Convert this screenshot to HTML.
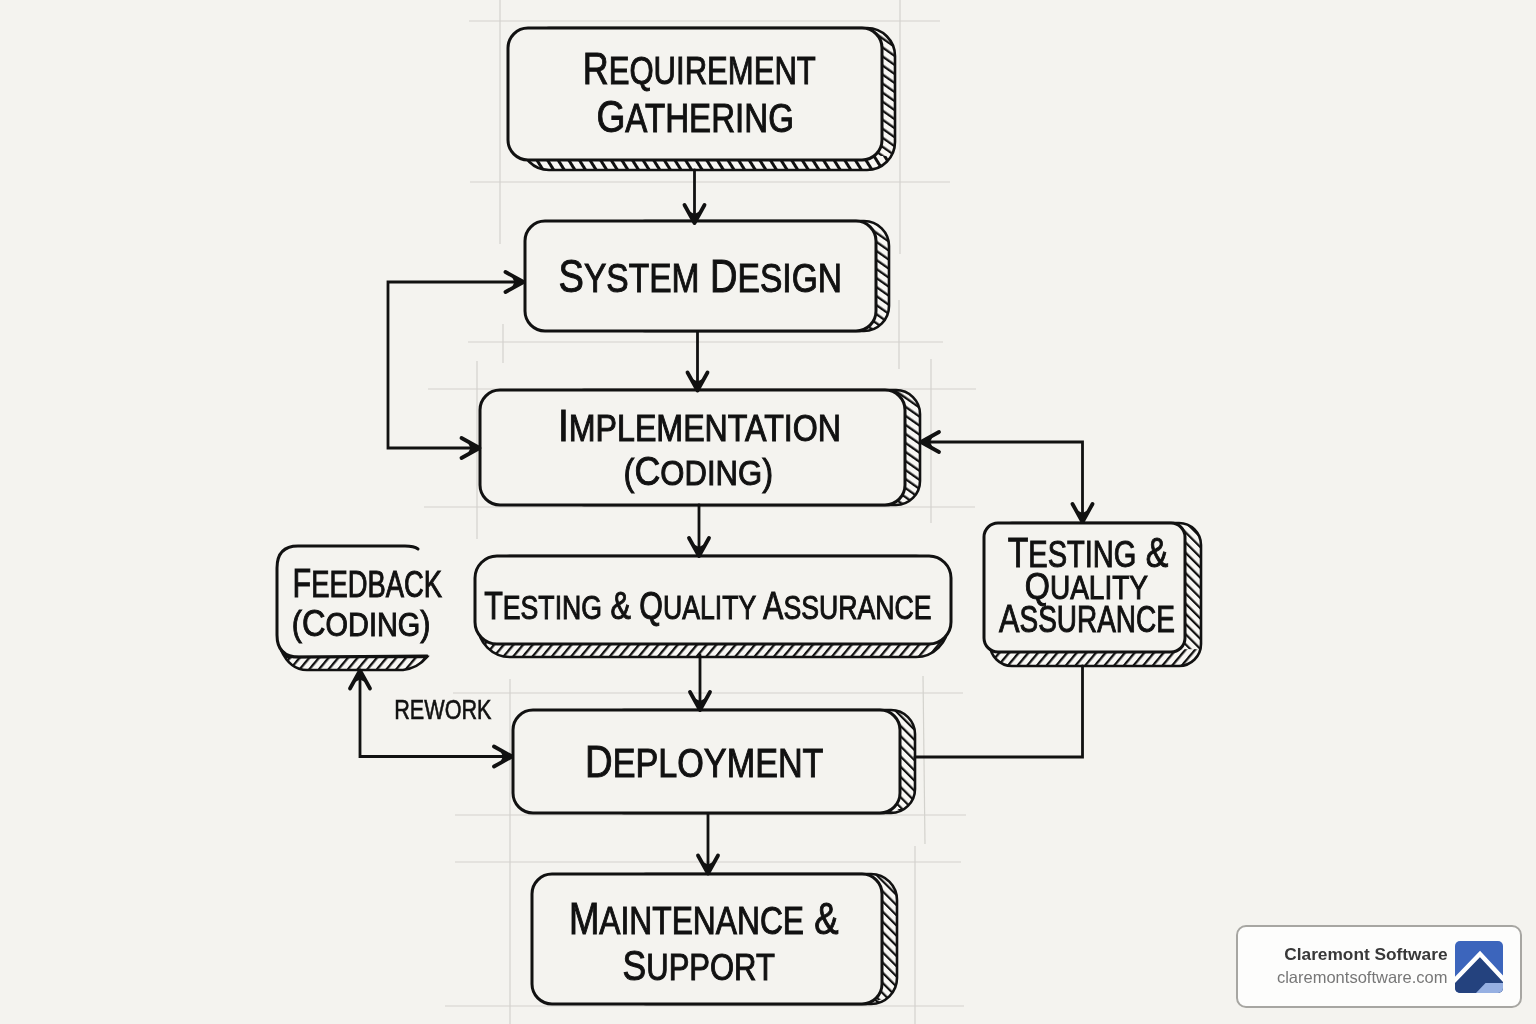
<!DOCTYPE html>
<html><head><meta charset="utf-8"><style>
html,body{margin:0;padding:0;background:#f4f3ef;}
body{width:1536px;height:1024px;overflow:hidden;position:relative;font-family:"Liberation Sans",sans-serif;}
svg{position:absolute;left:0;top:0;}
#main,.badge{will-change:transform;}
.badge{position:absolute;left:1236px;top:925px;width:286px;height:83px;box-sizing:border-box;border:2.5px solid #a7a6a2;border-radius:10px;background:#fdfdfc;}
.bt1{position:absolute;right:72.5px;top:16.5px;font-weight:bold;font-size:17.3px;color:#383838;white-space:nowrap;}
.bt2{position:absolute;right:72.5px;top:40.5px;font-size:16.5px;letter-spacing:0px;color:#777;white-space:nowrap;}
.logo{position:absolute;left:217px;top:14px;}
</style></head><body>
<svg id="main" width="1536" height="1024" viewBox="0 0 1536 1024">
<defs>
<pattern id="pB1" patternUnits="userSpaceOnUse" width="9" height="9" patternTransform="rotate(-32)">
<rect width="9" height="9" fill="#f8f7f4"/><rect width="3" height="9" fill="#111"/></pattern>
<pattern id="pR" patternUnits="userSpaceOnUse" width="7.4" height="7.4" patternTransform="rotate(-55)">
<rect width="7.4" height="7.4" fill="#f8f7f4"/><rect width="2.3" height="7.4" fill="#111"/></pattern>
<pattern id="pR2" patternUnits="userSpaceOnUse" width="7.2" height="7.2" patternTransform="rotate(-45)">
<rect width="7.2" height="7.2" fill="#f8f7f4"/><rect width="2.2" height="7.2" fill="#111"/></pattern>
<pattern id="pF" patternUnits="userSpaceOnUse" width="7.4" height="7.4" patternTransform="rotate(40)">
<rect width="7.4" height="7.4" fill="#f8f7f4"/><rect width="2.3" height="7.4" fill="#111"/></pattern>
</defs>
<rect width="1536" height="1024" fill="#f4f3ef"/>
<line x1="500" y1="0" x2="500" y2="244" stroke="#d3d2cd" stroke-width="1.2"/>
<line x1="503" y1="324" x2="503" y2="363" stroke="#d3d2cd" stroke-width="1.2"/>
<line x1="900" y1="0" x2="900" y2="254" stroke="#d3d2cd" stroke-width="1.2"/>
<line x1="899" y1="300" x2="899" y2="369" stroke="#d3d2cd" stroke-width="1.2"/>
<line x1="469" y1="21" x2="940" y2="21" stroke="#d3d2cd" stroke-width="1.2"/>
<line x1="470" y1="182" x2="950" y2="182" stroke="#d3d2cd" stroke-width="1.2"/>
<line x1="468" y1="342" x2="943" y2="342" stroke="#d3d2cd" stroke-width="1.2"/>
<line x1="477" y1="361" x2="477" y2="539" stroke="#d3d2cd" stroke-width="1.2"/>
<line x1="931" y1="359" x2="931" y2="523" stroke="#d3d2cd" stroke-width="1.2"/>
<line x1="428" y1="389" x2="976" y2="389" stroke="#d3d2cd" stroke-width="1.2"/>
<line x1="424" y1="507" x2="975" y2="507" stroke="#d3d2cd" stroke-width="1.2"/>
<line x1="510" y1="679" x2="510" y2="1024" stroke="#d3d2cd" stroke-width="1.2"/>
<line x1="923" y1="676" x2="925" y2="844" stroke="#d3d2cd" stroke-width="1.2"/>
<line x1="453" y1="693" x2="963" y2="693" stroke="#d3d2cd" stroke-width="1.2"/>
<line x1="455" y1="815" x2="966" y2="815" stroke="#d3d2cd" stroke-width="1.2"/>
<line x1="915" y1="846" x2="915" y2="1024" stroke="#d3d2cd" stroke-width="1.2"/>
<line x1="455" y1="862" x2="961" y2="862" stroke="#d3d2cd" stroke-width="1.2"/>
<line x1="445" y1="1006" x2="964" y2="1006" stroke="#d3d2cd" stroke-width="1.2"/>
<clipPath id="sc0"><path d="M549,28 L867,28 C882.4,28 895,40.599999999999994 895,56 L895,142 C895,157.4 882.4,170 867,170 L549,170 C533.6,170 521,157.4 521,142 L521,56 C521,40.599999999999994 533.6,28 549,28 Z"/></clipPath>
<path d="M549,28 L867,28 C882.4,28 895,40.599999999999994 895,56 L895,142 C895,157.4 882.4,170 867,170 L549,170 C533.6,170 521,157.4 521,142 L521,56 C521,40.599999999999994 533.6,28 549,28 Z" fill="url(#pB1)"/>
<rect x="862" y="28" width="36" height="128.0" fill="url(#pR)" clip-path="url(#sc0)"/>
<path d="M549,28 L867,28 C882.4,28 895,40.599999999999994 895,56 L895,142 C895,157.4 882.4,170 867,170 L549,170 C533.6,170 521,157.4 521,142 L521,56 C521,40.599999999999994 533.6,28 549,28 Z" fill="none" stroke="#111" stroke-width="2.6"/>
<path d="M528,28 L862,28 C873.0,28 882,37.0 882,48 L882,140 C882,151.0 873.0,160 862,160 L528,160 C517.0,160 508,151.0 508,140 L508,48 C508,37.0 517.0,28 528,28 Z" fill="#f4f3ef" stroke="#111" stroke-width="3"/>
<clipPath id="sc1"><path d="M645,221 L864,221 C877.75,221 889,232.25 889,246 L889,306 C889,319.75 877.75,331 864,331 L645,331 C631.25,331 620,319.75 620,306 L620,246 C620,232.25 631.25,221 645,221 Z"/></clipPath>
<path d="M645,221 L864,221 C877.75,221 889,232.25 889,246 L889,306 C889,319.75 877.75,331 864,331 L645,331 C631.25,331 620,319.75 620,306 L620,246 C620,232.25 631.25,221 645,221 Z" fill="url(#pR)"/>
<path d="M645,221 L864,221 C877.75,221 889,232.25 889,246 L889,306 C889,319.75 877.75,331 864,331 L645,331 C631.25,331 620,319.75 620,306 L620,246 C620,232.25 631.25,221 645,221 Z" fill="none" stroke="#111" stroke-width="2.6"/>
<path d="M545,221 L856,221 C867.0,221 876,230.0 876,241 L876,311 C876,322.0 867.0,331 856,331 L545,331 C534.0,331 525,322.0 525,311 L525,241 C525,230.0 534.0,221 545,221 Z" fill="#f4f3ef" stroke="#111" stroke-width="3"/>
<clipPath id="sc2"><path d="M584,390 L896,390 C909.2,390 920,400.8 920,414 L920,481 C920,494.2 909.2,505 896,505 L584,505 C570.8,505 560,494.2 560,481 L560,414 C560,400.8 570.8,390 584,390 Z"/></clipPath>
<path d="M584,390 L896,390 C909.2,390 920,400.8 920,414 L920,481 C920,494.2 909.2,505 896,505 L584,505 C570.8,505 560,494.2 560,481 L560,414 C560,400.8 570.8,390 584,390 Z" fill="url(#pR)"/>
<path d="M584,390 L896,390 C909.2,390 920,400.8 920,414 L920,481 C920,494.2 909.2,505 896,505 L584,505 C570.8,505 560,494.2 560,481 L560,414 C560,400.8 570.8,390 584,390 Z" fill="none" stroke="#111" stroke-width="2.6"/>
<path d="M500,390 L885,390 C896.0,390 905,399.0 905,410 L905,485 C905,496.0 896.0,505 885,505 L500,505 C489.0,505 480,496.0 480,485 L480,410 C480,399.0 489.0,390 500,390 Z" fill="#f4f3ef" stroke="#111" stroke-width="3"/>
<clipPath id="sc3"><path d="M510,556 L916,556 C933.6,556 948,570.4 948,588 L948,625 C948,642.6 933.6,657 916,657 L510,657 C492.4,657 478,642.6 478,625 L478,588 C478,570.4 492.4,556 510,556 Z"/></clipPath>
<path d="M510,556 L916,556 C933.6,556 948,570.4 948,588 L948,625 C948,642.6 933.6,657 916,657 L510,657 C492.4,657 478,642.6 478,625 L478,588 C478,570.4 492.4,556 510,556 Z" fill="url(#pF)"/>
<path d="M510,556 L916,556 C933.6,556 948,570.4 948,588 L948,625 C948,642.6 933.6,657 916,657 L510,657 C492.4,657 478,642.6 478,625 L478,588 C478,570.4 492.4,556 510,556 Z" fill="none" stroke="#111" stroke-width="2.6"/>
<path d="M497,556 L929,556 C941.1,556 951,565.9 951,578 L951,622 C951,634.1 941.1,644 929,644 L497,644 C484.9,644 475,634.1 475,622 L475,578 C475,565.9 484.9,556 497,556 Z" fill="#f4f3ef" stroke="#111" stroke-width="3"/>
<clipPath id="sc4"><path d="M624,710 L891,710 C904.2,710 915,720.8 915,734 L915,789 C915,802.2 904.2,813 891,813 L624,813 C610.8,813 600,802.2 600,789 L600,734 C600,720.8 610.8,710 624,710 Z"/></clipPath>
<path d="M624,710 L891,710 C904.2,710 915,720.8 915,734 L915,789 C915,802.2 904.2,813 891,813 L624,813 C610.8,813 600,802.2 600,789 L600,734 C600,720.8 610.8,710 624,710 Z" fill="url(#pR)"/>
<rect x="880" y="710" width="38" height="99.0" fill="url(#pR2)" clip-path="url(#sc4)"/>
<path d="M624,710 L891,710 C904.2,710 915,720.8 915,734 L915,789 C915,802.2 904.2,813 891,813 L624,813 C610.8,813 600,802.2 600,789 L600,734 C600,720.8 610.8,710 624,710 Z" fill="none" stroke="#111" stroke-width="2.6"/>
<path d="M533,710 L880,710 C891.0,710 900,719.0 900,730 L900,793 C900,804.0 891.0,813 880,813 L533,813 C522.0,813 513,804.0 513,793 L513,730 C513,719.0 522.0,710 533,710 Z" fill="#f4f3ef" stroke="#111" stroke-width="3"/>
<clipPath id="sc5"><path d="M646,874 L871,874 C885.3,874 897,885.7 897,900 L897,978 C897,992.3 885.3,1004 871,1004 L646,1004 C631.7,1004 620,992.3 620,978 L620,900 C620,885.7 631.7,874 646,874 Z"/></clipPath>
<path d="M646,874 L871,874 C885.3,874 897,885.7 897,900 L897,978 C897,992.3 885.3,1004 871,1004 L646,1004 C631.7,1004 620,992.3 620,978 L620,900 C620,885.7 631.7,874 646,874 Z" fill="url(#pR)"/>
<rect x="862" y="874" width="38" height="126.0" fill="url(#pR2)" clip-path="url(#sc5)"/>
<path d="M646,874 L871,874 C885.3,874 897,885.7 897,900 L897,978 C897,992.3 885.3,1004 871,1004 L646,1004 C631.7,1004 620,992.3 620,978 L620,900 C620,885.7 631.7,874 646,874 Z" fill="none" stroke="#111" stroke-width="2.6"/>
<path d="M552,874 L862,874 C873.0,874 882,883.0 882,894 L882,984 C882,995.0 873.0,1004 862,1004 L552,1004 C541.0,1004 532,995.0 532,984 L532,894 C532,883.0 541.0,874 552,874 Z" fill="#f4f3ef" stroke="#111" stroke-width="3"/>
<clipPath id="sc6"><path d="M1012,523 L1179,523 C1191.1,523 1201,532.9 1201,545 L1201,644 C1201,656.1 1191.1,666 1179,666 L1012,666 C999.9,666 990,656.1 990,644 L990,545 C990,532.9 999.9,523 1012,523 Z"/></clipPath>
<path d="M1012,523 L1179,523 C1191.1,523 1201,532.9 1201,545 L1201,644 C1201,656.1 1191.1,666 1179,666 L1012,666 C999.9,666 990,656.1 990,644 L990,545 C990,532.9 999.9,523 1012,523 Z" fill="url(#pF)"/>
<rect x="1171" y="523" width="33" height="126.2" fill="url(#pR2)" clip-path="url(#sc6)"/>
<path d="M1012,523 L1179,523 C1191.1,523 1201,532.9 1201,545 L1201,644 C1201,656.1 1191.1,666 1179,666 L1012,666 C999.9,666 990,656.1 990,644 L990,545 C990,532.9 999.9,523 1012,523 Z" fill="none" stroke="#111" stroke-width="2.6"/>
<path d="M998,523 L1171,523 C1178.7,523 1185,529.3 1185,537 L1185,638 C1185,645.7 1178.7,652 1171,652 L998,652 C990.3,652 984,645.7 984,638 L984,537 C984,529.3 990.3,523 998,523 Z" fill="#f4f3ef" stroke="#111" stroke-width="3"/>
<path d="M281,650 Q290,670 307,670 L403,670 Q418,668 427,657 L288,657 Z" fill="url(#pF)" stroke="#111" stroke-width="2.6"/>
<path d="M418,549 Q414,546 405,546 L298,546 Q277,546 277,568 L277,635 Q277,657 299,657 L427,656" fill="none" stroke="#111" stroke-width="3" stroke-linecap="round"/>
<path d="M694.5,170 L694.5,223" fill="none" stroke="#111" stroke-width="2.8" stroke-linejoin="miter" stroke-linecap="round"/>
<path d="M694.5,223 L687.6,210.5 L694.5,214.0 L701.4,210.5 Z" fill="#111"/>
<path d="M684.5,205.0 L694.5,223 L704.5,205.0" fill="none" stroke="#111" stroke-width="3.8" stroke-linejoin="round" stroke-linecap="round"/>
<path d="M697.5,332 L697.5,390.5" fill="none" stroke="#111" stroke-width="2.8" stroke-linejoin="miter" stroke-linecap="round"/>
<path d="M697.5,390.5 L690.6,378.0 L697.5,381.5 L704.4,378.0 Z" fill="#111"/>
<path d="M687.5,372.5 L697.5,390.5 L707.5,372.5" fill="none" stroke="#111" stroke-width="3.8" stroke-linejoin="round" stroke-linecap="round"/>
<path d="M699,505 L699,556" fill="none" stroke="#111" stroke-width="2.8" stroke-linejoin="miter" stroke-linecap="round"/>
<path d="M699,556 L692.1,543.5 L699.0,547.0 L705.9,543.5 Z" fill="#111"/>
<path d="M689.0,538.0 L699,556 L709.0,538.0" fill="none" stroke="#111" stroke-width="3.8" stroke-linejoin="round" stroke-linecap="round"/>
<path d="M700,655 L700,710" fill="none" stroke="#111" stroke-width="2.8" stroke-linejoin="miter" stroke-linecap="round"/>
<path d="M700,710 L693.1,697.5 L700.0,701.0 L706.9,697.5 Z" fill="#111"/>
<path d="M690.0,692.0 L700,710 L710.0,692.0" fill="none" stroke="#111" stroke-width="3.8" stroke-linejoin="round" stroke-linecap="round"/>
<path d="M708,814 L708,873.5" fill="none" stroke="#111" stroke-width="2.8" stroke-linejoin="miter" stroke-linecap="round"/>
<path d="M708,873.5 L701.1,861.0 L708.0,864.5 L714.9,861.0 Z" fill="#111"/>
<path d="M698.0,855.5 L708,873.5 L718.0,855.5" fill="none" stroke="#111" stroke-width="3.8" stroke-linejoin="round" stroke-linecap="round"/>
<path d="M523.5,282 L388,282 L388,448 L479.5,448" fill="none" stroke="#111" stroke-width="2.8" stroke-linejoin="miter" stroke-linecap="round"/>
<path d="M523.5,282 L511.0,288.9 L514.5,282.0 L511.0,275.1 Z" fill="#111"/>
<path d="M505.5,292.0 L523.5,282 L505.5,272.0" fill="none" stroke="#111" stroke-width="3.8" stroke-linejoin="round" stroke-linecap="round"/>
<path d="M479.5,448 L467.0,454.9 L470.5,448.0 L467.0,441.1 Z" fill="#111"/>
<path d="M461.5,458.0 L479.5,448 L461.5,438.0" fill="none" stroke="#111" stroke-width="3.8" stroke-linejoin="round" stroke-linecap="round"/>
<path d="M360,670.5 L360,756.5 L512,756.5" fill="none" stroke="#111" stroke-width="2.8" stroke-linejoin="miter" stroke-linecap="round"/>
<path d="M360,670.5 L366.9,683.0 L360.0,679.5 L353.1,683.0 Z" fill="#111"/>
<path d="M370.0,688.5 L360,670.5 L350.0,688.5" fill="none" stroke="#111" stroke-width="3.8" stroke-linejoin="round" stroke-linecap="round"/>
<path d="M512,756.5 L499.5,763.4 L503.0,756.5 L499.5,749.6 Z" fill="#111"/>
<path d="M494.0,766.5 L512,756.5 L494.0,746.5" fill="none" stroke="#111" stroke-width="3.8" stroke-linejoin="round" stroke-linecap="round"/>
<path d="M921,442 L1082.5,442 L1082.5,522" fill="none" stroke="#111" stroke-width="2.8" stroke-linejoin="miter" stroke-linecap="round"/>
<path d="M921,442 L933.5,435.1 L930.0,442.0 L933.5,448.9 Z" fill="#111"/>
<path d="M939.0,432.0 L921,442 L939.0,452.0" fill="none" stroke="#111" stroke-width="3.8" stroke-linejoin="round" stroke-linecap="round"/>
<path d="M1082.5,522 L1075.6,509.5 L1082.5,513.0 L1089.4,509.5 Z" fill="#111"/>
<path d="M1072.5,504.0 L1082.5,522 L1092.5,504.0" fill="none" stroke="#111" stroke-width="3.8" stroke-linejoin="round" stroke-linecap="round"/>
<path d="M1082.5,666 L1082.5,757 L915,757" fill="none" stroke="#111" stroke-width="2.8" stroke-linejoin="miter" stroke-linecap="round"/>
<text x="582.80" y="84.00" textLength="233.00" lengthAdjust="spacingAndGlyphs" font-family="Liberation Sans" fill="#111" stroke="#111" stroke-width="1.0" xml:space="preserve"><tspan font-size="45">R</tspan><tspan font-size="39">EQUIREMENT</tspan></text>
<text x="596.40" y="132.00" textLength="197.50" lengthAdjust="spacingAndGlyphs" font-family="Liberation Sans" fill="#111" stroke="#111" stroke-width="1.0" xml:space="preserve"><tspan font-size="45">G</tspan><tspan font-size="40">ATHERING</tspan></text>
<text x="558.60" y="292.00" textLength="283.40" lengthAdjust="spacingAndGlyphs" font-family="Liberation Sans" fill="#111" stroke="#111" stroke-width="1.0" xml:space="preserve"><tspan font-size="46.5">S</tspan><tspan font-size="41">YSTEM</tspan><tspan font-size="46.5"> D</tspan><tspan font-size="41">ESIGN</tspan></text>
<text x="557.90" y="441.40" textLength="283.10" lengthAdjust="spacingAndGlyphs" font-family="Liberation Sans" fill="#111" stroke="#111" stroke-width="1.0" xml:space="preserve"><tspan font-size="43.8">I</tspan><tspan font-size="36">MPLEMENTATION</tspan></text>
<text x="623.60" y="485.00" textLength="149.50" lengthAdjust="spacingAndGlyphs" font-family="Liberation Sans" fill="#111" stroke="#111" stroke-width="1.0" xml:space="preserve"><tspan font-size="37.5">(</tspan><tspan font-size="41">C</tspan><tspan font-size="35.6">ODING</tspan><tspan font-size="37.5">)</tspan></text>
<text x="484.20" y="619.00" textLength="447.30" lengthAdjust="spacingAndGlyphs" font-family="Liberation Sans" fill="#111" stroke="#111" stroke-width="1.0" xml:space="preserve"><tspan font-size="38.3">T</tspan><tspan font-size="33.5">ESTING</tspan><tspan font-size="38.3"> &amp; Q</tspan><tspan font-size="33.5">UALITY</tspan><tspan font-size="38.3"> A</tspan><tspan font-size="33.5">SSURANCE</tspan></text>
<text x="585.10" y="777.30" textLength="238.40" lengthAdjust="spacingAndGlyphs" font-family="Liberation Sans" fill="#111" stroke="#111" stroke-width="1.0" xml:space="preserve"><tspan font-size="44.5">D</tspan><tspan font-size="39.8">EPLOYMENT</tspan></text>
<text x="568.90" y="934.30" textLength="269.60" lengthAdjust="spacingAndGlyphs" font-family="Liberation Sans" fill="#111" stroke="#111" stroke-width="1.0" xml:space="preserve"><tspan font-size="44.2">M</tspan><tspan font-size="38.5">AINTENANCE</tspan><tspan font-size="44.2"> &amp;</tspan></text>
<text x="622.60" y="979.60" textLength="152.30" lengthAdjust="spacingAndGlyphs" font-family="Liberation Sans" fill="#111" stroke="#111" stroke-width="1.0" xml:space="preserve"><tspan font-size="42.5">S</tspan><tspan font-size="37.2">UPPORT</tspan></text>
<text x="292.60" y="597.20" textLength="149.40" lengthAdjust="spacingAndGlyphs" font-family="Liberation Sans" fill="#111" stroke="#111" stroke-width="1.0" xml:space="preserve"><tspan font-size="41.3">F</tspan><tspan font-size="37">EEDBACK</tspan></text>
<text x="291.80" y="636.30" textLength="138.70" lengthAdjust="spacingAndGlyphs" font-family="Liberation Sans" fill="#111" stroke="#111" stroke-width="1.0" xml:space="preserve"><tspan font-size="35.6">(</tspan><tspan font-size="37.8">C</tspan><tspan font-size="33.5">ODING</tspan><tspan font-size="35.6">)</tspan></text>
<text x="1007.70" y="567.10" textLength="160.60" lengthAdjust="spacingAndGlyphs" font-family="Liberation Sans" fill="#111" stroke="#111" stroke-width="1.0" xml:space="preserve"><tspan font-size="43">T</tspan><tspan font-size="37">ESTING</tspan><tspan font-size="43"> &amp;</tspan></text>
<text x="1024.70" y="598.70" textLength="123.40" lengthAdjust="spacingAndGlyphs" font-family="Liberation Sans" fill="#111" stroke="#111" stroke-width="1.0" xml:space="preserve"><tspan font-size="37.5">Q</tspan><tspan font-size="32.5">UALITY</tspan></text>
<text x="999.10" y="632.00" textLength="175.80" lengthAdjust="spacingAndGlyphs" font-family="Liberation Sans" fill="#111" stroke="#111" stroke-width="1.0" xml:space="preserve"><tspan font-size="39.5">A</tspan><tspan font-size="36">SSURANCE</tspan></text>
<text x="394.20" y="718.60" textLength="97.30" lengthAdjust="spacingAndGlyphs" font-family="Liberation Sans" fill="#111" stroke="#111" stroke-width="0.6" xml:space="preserve"><tspan font-size="28">REWORK</tspan></text>
</svg>
<div class="badge">
<div class="bt1">Claremont Software</div>
<div class="bt2">claremontsoftware.com</div>
<svg class="logo" width="50" height="54" viewBox="0 0 50 54">
<defs><clipPath id="lc"><rect x="0" y="0" width="48" height="52" rx="5"/></clipPath></defs>
<g clip-path="url(#lc)">
<rect x="0" y="0" width="48" height="52" fill="#3c65bc"/>
<path d="M-3,42 L25,13 L52,42 L52,60 L-3,60 Z" fill="#24427e"/>
<path d="M21,52 L30.5,42 L52,42 L52,60 L21,60 Z" fill="#96b0e2"/>
<path d="M-3,42 L25,13 L52,42" fill="none" stroke="#fff" stroke-width="4.4"/>
</g>
</svg>
</div>
</body></html>
